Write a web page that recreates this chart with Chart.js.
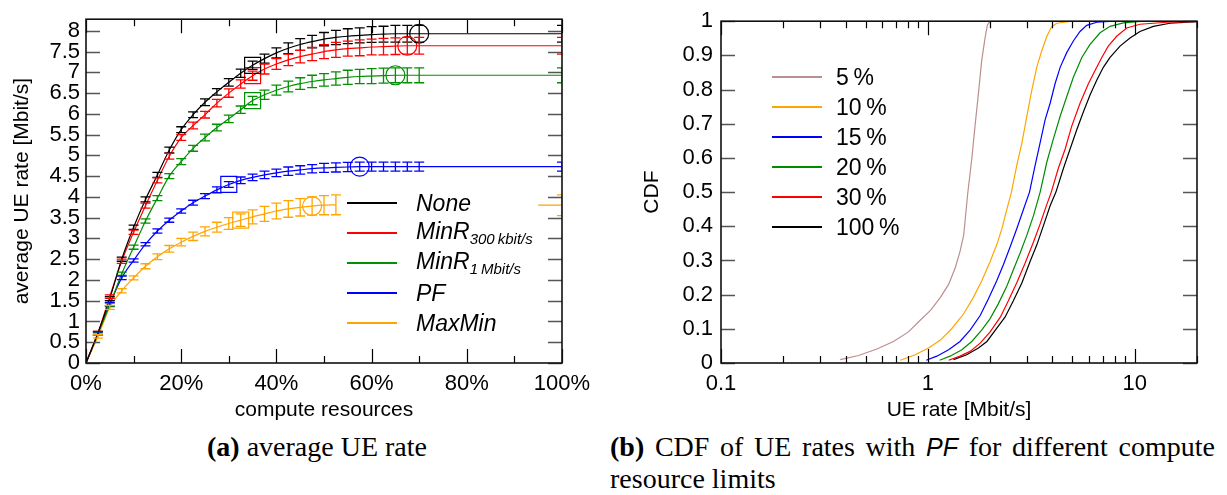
<!DOCTYPE html>
<html>
<head>
<meta charset="utf-8">
<script src="https://cdn.jsdelivr.net/npm/chart.js@4.4.1/dist/chart.umd.min.js"></script>
<style>
  body { margin: 0; background: #fff; }
  #wrap { position: relative; width: 1227px; height: 495px; background: #fff; overflow: hidden;
          font-family: 'Liberation Sans', Arial, sans-serif; color: #000; }
  canvas { position: absolute; top: 0; }
  .swatch { position: absolute; height: 2px; width: 50px; }
  .leglab { position: absolute; font-size: 23px; line-height: 1; transform: translateY(-50%); white-space: nowrap; }
  .leglab.it { font-style: italic; }
  .leglab sub { font-size: 15px; vertical-align: -5px; }
  .cap { position: absolute; font-family: 'Liberation Serif', 'Times New Roman', serif; font-size: 28px; line-height: 31px; }
  .cap i { font-family: 'Liberation Sans', Arial, sans-serif; font-size: 25px; }
</style>
</head>
<body>
<div id="wrap">
  <canvas id="rateChart" width="600" height="430" style="left:0"></canvas>
  <canvas id="cdfChart" width="627" height="430" style="left:600px"></canvas>
  <div id="legendA"></div>
  <div id="legendB"></div>
  <div class="cap" style="left:207px; top:431px;"><b>(a)</b> average UE rate</div>
  <div class="cap" style="left:610px; top:431px; width:605px; text-align:justify;"><b>(b)</b> CDF of UE rates with <i>PF</i> for different compute resource limits</div>
</div>
<script>
// ---- (a) average UE rate vs compute resources ----
const computeX = [0, 2.5, 5, 7.5, 10, 12.5, 15, 17.5, 20, 22.5, 25, 27.5, 30, 32.5, 35, 37.5, 40, 42.5, 45, 47.5, 50, 52.5, 55, 57.5, 60, 62.5, 65, 67.5, 70, 100];
const noneY    = [0, 0.72, 1.55, 2.5, 3.27, 3.94, 4.53, 5.13, 5.62, 5.98, 6.28, 6.53, 6.76, 6.98, 7.17, 7.33, 7.47, 7.58, 7.67, 7.74, 7.8, 7.84, 7.87, 7.89, 7.91, 7.92, 7.93, 7.93, 7.93, 7.93];
const minR300Y = [0, 0.72, 1.6, 2.45, 3.15, 3.79, 4.4, 4.98, 5.43, 5.72, 5.98, 6.26, 6.5, 6.72, 6.92, 7.08, 7.2, 7.3, 7.38, 7.44, 7.5, 7.54, 7.57, 7.59, 7.61, 7.62, 7.63, 7.64, 7.64, 7.64];
const minR1Y   = [0, 0.7, 1.4, 2.15, 2.79, 3.42, 3.97, 4.5, 4.85, 5.17, 5.43, 5.67, 5.88, 6.1, 6.32, 6.46, 6.57, 6.66, 6.73, 6.78, 6.82, 6.85, 6.88, 6.9, 6.91, 6.92, 6.93, 6.93, 6.93, 6.93];
const pfY      = [0, 0.72, 1.42, 2.05, 2.47, 2.86, 3.18, 3.44, 3.66, 3.86, 4.02, 4.17, 4.3, 4.4, 4.47, 4.53, 4.58, 4.62, 4.65, 4.68, 4.7, 4.71, 4.72, 4.73, 4.73, 4.73, 4.73, 4.73, 4.73, 4.73];
const maxMinX  = [0, 2.5, 5, 7.5, 10, 12.5, 15, 17.5, 20, 22.5, 25, 27.5, 30, 32.5, 35, 37.5, 40, 42.5, 45, 47.5, 50, 52.5, 60, 95, 100];
const maxMinY  = [0, 0.64, 1.34, 1.74, 2.05, 2.33, 2.56, 2.75, 2.91, 3.05, 3.17, 3.27, 3.36, 3.44, 3.52, 3.59, 3.66, 3.71, 3.75, 3.78, 3.8, 3.81, null, 3.8, 3.8];

// half-height of the error bars [Mbit/s]
const noneErr    = [0, .04, .05, .05, .05, .06, .06, .07, .07, .07, .08, .08, .09, .1, .1, .11, .12, .13, .14, .15, .16, .17, .18, .18, .19, .19, .2, .2, .2, .2];
const minR300Err = [0, .04, .04, .05, .05, .06, .06, .07, .07, .08, .08, .09, .1, .1, .11, .12, .13, .14, .15, .16, .17, .18, .18, .19, .19, .2, .2, .2, .2, .2];
const minR1Err   = [0, .03, .04, .04, .05, .05, .06, .06, .07, .07, .08, .08, .09, .09, .1, .11, .12, .13, .14, .15, .15, .16, .17, .17, .18, .18, .18, .18, .18, .18];
const pfErr      = [0, .03, .04, .04, .04, .04, .05, .05, .05, .06, .06, .07, .07, .08, .08, .09, .09, .1, .1, .1, .11, .11, .11, .11, .11, .11, .11, .11, .11, .11];
const maxMinErr  = [0, .04, .05, .05, .05, .06, .07, .08, .09, .1, .11, .12, .14, .15, .17, .18, .19, .2, .21, .22, .23, .24, 0, 0, .25];

const seriesNames = ['None', 'MinR', 'MinR', 'PF', 'MaxMin'];
const seriesSubs  = ['', '300\u202Fkbit/s', '1\u202FMbit/s', '', ''];
const seriesColors = ['#000000', '#ff0000', '#009000', '#0000ff', '#ffa500'];
const squareX = [35, 35, 35, 30, 32.5];
const circleX = [70, 67.5, 65, 57.5, 47.5];

const xTicksA = [0, 20, 40, 60, 80, 100];
const xMinorA = [10, 30, 50, 70, 90];
const yTicksA = [0, 0.5, 1, 1.5, 2, 2.5, 3, 3.5, 4, 4.5, 5, 5.5, 6, 6.5, 7, 7.5, 8];

// ---- (b) CDF of UE rates with PF ----
const rate5   = [0.377, 0.462, 0.567, 0.682, 0.806, 0.918, 1.03, 1.15, 1.26, 1.355, 1.43, 1.49, 1.56, 1.63, 1.69, 1.756, 1.82, 1.89, 1.94, 2.0];
const cdf5    = [0.01, 0.022, 0.041, 0.063, 0.091, 0.125, 0.154, 0.192, 0.23, 0.278, 0.326, 0.374, 0.498, 0.597, 0.693, 0.789, 0.884, 0.951, 0.989, 1.0];
const rate10  = [0.735, 0.868, 1.007, 1.15, 1.306, 1.49, 1.66, 1.82, 2.0, 2.15, 2.28, 2.41, 2.53, 2.69, 2.85, 3.01, 3.18, 3.36, 3.55, 3.76, 3.97, 4.2, 4.96];
const cdf10   = [0.008, 0.024, 0.044, 0.067, 0.101, 0.144, 0.192, 0.24, 0.297, 0.345, 0.393, 0.45, 0.498, 0.578, 0.645, 0.722, 0.798, 0.865, 0.913, 0.956, 0.984, 0.994, 1.0];
const rate15  = [0.982, 1.105, 1.26, 1.43, 1.6, 1.79, 1.96, 2.15, 2.32, 2.5, 2.69, 2.9, 3.1, 3.3, 3.49, 3.69, 3.9, 4.12, 4.36, 4.69, 5.05, 5.44, 5.86, 6.55, 7.88];
const cdf15   = [0.008, 0.02, 0.039, 0.063, 0.096, 0.139, 0.187, 0.24, 0.288, 0.34, 0.393, 0.45, 0.5, 0.578, 0.645, 0.712, 0.76, 0.817, 0.865, 0.908, 0.942, 0.97, 0.988, 0.997, 1.0];
const rate20  = [1.14, 1.28, 1.46, 1.63, 1.82, 2.0, 2.19, 2.41, 2.59, 2.79, 3.01, 3.24, 3.49, 3.76, 4.04, 4.36, 4.69, 5.05, 5.55, 6.08, 6.8, 7.6, 8.81, 11.0];
const cdf20   = [0.008, 0.02, 0.039, 0.063, 0.096, 0.13, 0.173, 0.225, 0.273, 0.321, 0.374, 0.431, 0.5, 0.588, 0.655, 0.722, 0.779, 0.836, 0.894, 0.932, 0.966, 0.985, 0.995, 1.0];
const rate30  = [1.26, 1.43, 1.6, 1.79, 2.0, 2.24, 2.45, 2.69, 2.95, 3.24, 3.49, 3.76, 3.95, 4.27, 4.61, 4.96, 5.44, 5.97, 6.43, 6.93, 7.45, 8.18, 9.14, 10.6, 14.3, 19.5];
const cdf30   = [0.008, 0.02, 0.034, 0.058, 0.091, 0.134, 0.182, 0.235, 0.292, 0.354, 0.407, 0.464, 0.5, 0.569, 0.626, 0.693, 0.76, 0.817, 0.856, 0.894, 0.927, 0.956, 0.98, 0.991, 0.997, 0.999];
const rate100 = [1.33, 1.54, 1.756, 1.93, 2.15, 2.36, 2.59, 2.85, 3.12, 3.36, 3.62, 3.9, 4.16, 4.52, 4.87, 5.25, 5.65, 6.08, 6.55, 7.05, 7.6, 8.49, 9.49, 10.6, 12.3, 14.8, 20];
const cdf100  = [0.01, 0.024, 0.044, 0.063, 0.101, 0.134, 0.182, 0.235, 0.297, 0.345, 0.402, 0.46, 0.5, 0.569, 0.626, 0.683, 0.735, 0.784, 0.827, 0.865, 0.894, 0.927, 0.951, 0.97, 0.985, 0.994, 0.999];

const limitNames  = ['5\u2009%', '10\u2009%', '15\u2009%', '20\u2009%', '30\u2009%', '100\u2009%'];
const limitColors = ['#bc8f8f', '#ffa500', '#0000ff', '#008c00', '#ff0000', '#000000'];

const xTicksB = [0.1, 1, 10];
const xMinorB = [0.2, 0.3, 0.4, 0.5, 0.6, 0.7, 0.8, 0.9, 2, 3, 4, 5, 6, 7, 8, 9, 20];
const yTicksB = [0, 0.1, 0.2, 0.3, 0.4, 0.5, 0.6, 0.7, 0.8, 0.9, 1];

Chart.defaults.font.family = "'Liberation Sans', Arial, sans-serif";
Chart.defaults.color = '#000';

function pts(xs, ys) {
    return xs.map((x, i) => ({ x: x, y: ys[i] }));
}
const plainNum = v => String(+Number(v).toFixed(3));

// gnuplot-like frame with inward ticks on all four sides
const frameTicks = {
    id: 'frameTicks',
    afterDatasetsDraw(chart, args, opts) {
        const { ctx, chartArea: a, scales: { x, y } } = chart;
        ctx.save();
        ctx.lineWidth = 1.3;
        ctx.strokeStyle = '#555';
        ctx.beginPath();
        opts.yMajor.forEach(v => {
            const py = Math.round(y.getPixelForValue(v)) + 0.5;
            ctx.moveTo(a.left, py); ctx.lineTo(a.left + 14, py);
            ctx.moveTo(a.right, py); ctx.lineTo(a.right - 14, py);
        });
        ctx.stroke();
        ctx.strokeStyle = '#000';
        ctx.lineWidth = 1.2;
        ctx.beginPath();
        opts.xMajor.forEach(v => {
            const px = Math.round(x.getPixelForValue(v)) + 0.5;
            ctx.moveTo(px, a.bottom); ctx.lineTo(px, a.bottom - 14);
            ctx.moveTo(px, a.top); ctx.lineTo(px, a.top + 14);
        });
        opts.xMinor.forEach(v => {
            const px = Math.round(x.getPixelForValue(v)) + 0.5;
            ctx.moveTo(px, a.bottom); ctx.lineTo(px, a.bottom - 7);
            ctx.moveTo(px, a.top); ctx.lineTo(px, a.top + 7);
        });
        ctx.stroke();
        ctx.lineWidth = 1.6;
        ctx.strokeStyle = '#111';
        ctx.strokeRect(a.left, a.top, a.right - a.left, a.bottom - a.top);
        ctx.restore();
    }
};

// vertical error bars with caps, from each dataset's errors list
const errorBars = {
    id: 'errorBars',
    afterDatasetsDraw(chart) {
        const { ctx, chartArea: a, scales: { x, y } } = chart;
        ctx.save();
        ctx.beginPath();
        ctx.rect(a.left, a.top, a.right - a.left, a.bottom - a.top);
        ctx.clip();
        chart.data.datasets.forEach(ds => {
            if (!ds.errors) return;
            ctx.strokeStyle = ds.borderColor;
            ctx.lineWidth = 1.3;
            ctx.beginPath();
            ds.data.forEach((p, i) => {
                const e = ds.errors[i];
                if (p.y === null || !e) return;
                const px = x.getPixelForValue(p.x);
                const y1 = y.getPixelForValue(p.y - e);
                const y2 = y.getPixelForValue(p.y + e);
                ctx.moveTo(px, y1); ctx.lineTo(px, y2);
                ctx.moveTo(px - 5, y1); ctx.lineTo(px + 5, y1);
                ctx.moveTo(px - 5, y2); ctx.lineTo(px + 5, y2);
            });
            ctx.stroke();
        });
        ctx.restore();
    }
};

const seriesY = [noneY, minR300Y, minR1Y, pfY];
const seriesErr = [noneErr, minR300Err, minR1Err, pfErr];
const datasetsA = seriesY.map((ys, k) => ({ data: pts(computeX, ys), errors: seriesErr[k] }));
datasetsA.push({ data: pts(maxMinX, maxMinY), errors: maxMinErr });
datasetsA.forEach((ds, k) => {
    const col = seriesColors[k];
    Object.assign(ds, {
        label: seriesNames[k] + seriesSubs[k],
        borderColor: col,
        borderWidth: 1.2,
        spanGaps: false,
        cubicInterpolationMode: 'monotone',
        pointBackgroundColor: 'rgba(0,0,0,0)',
        pointBorderColor: col,
        pointBorderWidth: 1.2,
        pointStyle: c => (c.raw && c.raw.x === squareX[k]) ? 'rect' : 'circle',
        pointRadius: c => {
            if (!c.raw) return 0;
            if (c.raw.x === squareX[k]) return 11.3;
            if (c.raw.x === circleX[k]) return 9.5;
            return 0;
        }
    });
});

const tickFont = { size: 22 };
const titleFont = { size: 21 };

new Chart(document.getElementById('rateChart'), {
    type: 'line',
    data: { datasets: datasetsA },
    options: {
        responsive: false,
        animation: false,
        layout: { padding: { top: 15, right: 38, left: 0, bottom: 0 } },
        plugins: {
            legend: { display: false },
            tooltip: { enabled: false },
            frameTicks: { xMajor: xTicksA, xMinor: xMinorA, yMajor: yTicksA }
        },
        scales: {
            x: {
                type: 'linear', min: 0, max: 100,
                grid: { display: false, drawTicks: false },
                border: { display: false },
                afterBuildTicks: s => { s.ticks = xTicksA.map(v => ({ value: v })); },
                afterFit: s => { s.height = 67; },
                ticks: { callback: v => v + '%', padding: 8, font: tickFont, maxRotation: 0, autoSkip: false },
                title: { display: true, text: 'compute resources', font: titleFont, padding: { top: 0, bottom: 7 } }
            },
            y: {
                type: 'linear', min: 0, max: 8.28,
                grid: { display: false, drawTicks: false },
                border: { display: false },
                afterBuildTicks: s => { s.ticks = yTicksA.map(v => ({ value: v })); },
                afterFit: s => { s.width = 86; },
                ticks: { callback: plainNum, padding: 6, font: tickFont, autoSkip: false },
                title: { display: true, text: 'average UE rate [Mbit/s]', font: titleFont, padding: { top: 10, bottom: 0 } }
            }
        }
    },
    plugins: [errorBars, frameTicks]
});

const ratesB = [rate5, rate10, rate15, rate20, rate30, rate100];
const cdfsB = [cdf5, cdf10, cdf15, cdf20, cdf30, cdf100];
const datasetsB = ratesB.map((xs, k) => ({
    label: limitNames[k],
    data: pts(xs, cdfsB[k]),
    borderColor: limitColors[k],
    borderWidth: 1.2,
    pointRadius: 0,
    tension: 0
}));

new Chart(document.getElementById('cdfChart'), {
    type: 'line',
    data: { datasets: datasetsB },
    options: {
        responsive: false,
        animation: false,
        layout: { padding: { top: 15, right: 30, left: 0, bottom: 0 } },
        plugins: {
            legend: { display: false },
            tooltip: { enabled: false },
            frameTicks: { xMajor: xTicksB, xMinor: xMinorB, yMajor: yTicksB }
        },
        scales: {
            x: {
                type: 'logarithmic', min: 0.1, max: 20,
                grid: { display: false, drawTicks: false },
                border: { display: false },
                afterBuildTicks: s => { s.ticks = xTicksB.map(v => ({ value: v })); },
                afterFit: s => { s.height = 67; },
                ticks: { callback: plainNum, padding: 8, font: tickFont, maxRotation: 0, autoSkip: false },
                title: { display: true, text: 'UE rate [Mbit/s]', font: titleFont, padding: { top: 0, bottom: 7 } }
            },
            y: {
                type: 'linear', min: 0, max: 1,
                grid: { display: false, drawTicks: false },
                border: { display: false },
                afterBuildTicks: s => { s.ticks = yTicksB.map(v => ({ value: v })); },
                afterFit: s => { s.width = 121; },
                ticks: { callback: plainNum, padding: 8, font: tickFont, autoSkip: false },
                title: { display: true, text: 'CDF', font: titleFont, padding: { top: 40, bottom: 0 } }
            }
        }
    },
    plugins: [frameTicks]
});

// legends as HTML (subscripts)
function buildLegend(el, names, subs, colors, lineLeft, textLeft, top0, italic) {
    names.forEach((name, k) => {
        const y = Math.round(top0 + k * 30);
        const sw = document.createElement('div');
        sw.className = 'swatch';
        sw.style.left = lineLeft + 'px';
        sw.style.top = (y - 1) + 'px';
        sw.style.background = colors[k];
        el.appendChild(sw);
        const lab = document.createElement('div');
        lab.className = 'leglab' + (italic ? ' it' : '');
        lab.style.left = textLeft + 'px';
        lab.style.top = y + 'px';
        lab.textContent = name;
        if (subs && subs[k]) {
            const sub = document.createElement('sub');
            sub.textContent = subs[k];
            lab.appendChild(sub);
        }
        el.appendChild(lab);
    });
}
buildLegend(document.getElementById('legendA'), seriesNames, seriesSubs, seriesColors, 347, 416, 203, true);
buildLegend(document.getElementById('legendB'), limitNames, null, limitColors, 772, 836, 77, false);
</script>
</body>
</html>
